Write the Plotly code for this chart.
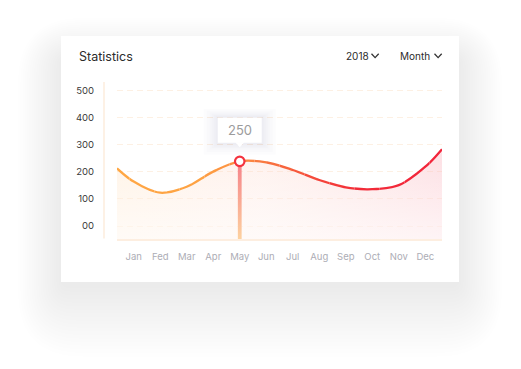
import plotly.graph_objects as go
from plotly.colors import sample_colorscale

# ---------------- data ----------------
months = ["Jan", "Fed", "Mar", "Apr", "May", "Jun", "Jul", "Aug", "Sep", "Oct", "Nov", "Dec"]
month_pos = [1, 2, 3, 4, 5, 6, 7, 8, 9, 10, 11, 12]
curve_x = [0.37, 1, 2, 3, 4, 5, 6, 7, 8, 9, 10, 11, 12, 12.63]
curve_y = [213, 164, 123, 145, 201, 239, 235, 207, 170, 143, 136, 151, 219, 284]
y_tick_vals = [0, 100, 200, 300, 400, 500]
y_tick_text = ["00", "100", "200", "300", "400", "500"]
highlight_month = "May"
highlight_label = "250"
title_text = "Statistics"
filter_labels = ["2018", "Month"]

# ---------------- layout constants ----------------
W, H = 521, 369
ML, MR, MT, MB = 117, 79, 82, 130
PL, PR, PT, PB = ML, W - MR, MT, H - MB
XR = [curve_x[0], curve_x[-1]]
YR = [-48, 532]
FONT = "Inter, Open Sans, sans-serif"


def px(x):
    return (x - PL) / (PR - PL)


def py(y):
    return (PB - y) / (PB - PT)


def rrect(x0, y0, x1, y1, r):
    # rounded rectangle path in paper coordinates, given pixel box
    return (f"M {px(x0 + r)} {py(y0)} L {px(x1 - r)} {py(y0)} Q {px(x1)} {py(y0)} {px(x1)} {py(y0 + r)} "
            f"L {px(x1)} {py(y1 - r)} Q {px(x1)} {py(y1)} {px(x1 - r)} {py(y1)} "
            f"L {px(x0 + r)} {py(y1)} Q {px(x0)} {py(y1)} {px(x0)} {py(y1 - r)} "
            f"L {px(x0)} {py(y0 + r)} Q {px(x0)} {py(y0)} {px(x0 + r)} {py(y0)} Z")


hx = month_pos[months.index(highlight_month)]
hy = curve_y[curve_x.index(hx)]

fig = go.Figure()
shapes = []
annotations = []

# ---------------- card shadow + card ----------------
CX0, CX1, CY0, CY1 = 61, 459, 36, 282
for i in range(20):
    e = 3 * i
    shapes.append(dict(type="path", xref="paper", yref="paper", layer="below",
                       path=rrect(CX0 - 0.75 * e, 58 - 0.7 * e, CX1 + 0.75 * e, CY1 + 6 + 1.2 * e, 8 + e),
                       line=dict(width=0), fillcolor="rgb(75,90,160)", opacity=0.009))
shapes.append(dict(type="rect", xref="paper", yref="paper", layer="below",
                   x0=px(CX0), x1=px(CX1), y0=py(CY1), y1=py(CY0),
                   line=dict(width=0), fillcolor="#ffffff"))
# vertical axis accent line
shapes.append(dict(type="line", xref="paper", yref="paper", layer="below",
                   x0=px(104), x1=px(104), y0=py(238.5), y1=py(82),
                   line=dict(color="#fdeedf", width=1.6)))

# ---------------- area fills ----------------
fig.add_trace(go.Scatter(x=XR, y=[YR[0], YR[0]], mode="lines", line=dict(width=0),
                         showlegend=False, hoverinfo="skip"))
fig.add_trace(go.Scatter(x=curve_x, y=curve_y, mode="lines",
                         line=dict(width=0, shape="spline"), fill="tonexty",
                         fillgradient=dict(type="horizontal",
                                           colorscale=[[0, "rgba(255,186,110,0.17)"],
                                                       [0.45, "rgba(252,165,140,0.15)"],
                                                       [1, "rgba(245,110,130,0.22)"]]),
                         showlegend=False, hoverinfo="skip"))
fig.add_trace(go.Scatter(x=XR, y=[YR[0], YR[0]], mode="lines", line=dict(width=0),
                         showlegend=False, hoverinfo="skip"))
fig.add_trace(go.Scatter(x=curve_x, y=curve_y, mode="lines",
                         line=dict(width=0, shape="spline"), fill="tonexty",
                         fillgradient=dict(type="vertical",
                                           colorscale=[[0, "rgba(255,255,255,0.65)"],
                                                       [1, "rgba(255,255,255,0)"]]),
                         showlegend=False, hoverinfo="skip"))

# ---------------- gradient line via clipped segments ----------------
N = 26
line_scale = [[0, "#ffa744"], [0.25, "#fea243"], [0.38, "#fc8c42"], [0.5, "#f76a3e"],
              [0.62, "#f4453a"], [0.75, "#f22b38"], [1, "#f2243b"]]
seg_cols = sample_colorscale(line_scale, [(k + 0.5) / N for k in range(N)])
span = XR[1] - XR[0]
layout_axes = {}
for k in range(N):
    ax_id = k + 2
    layout_axes[f"xaxis{ax_id}"] = dict(domain=[k / N, (k + 1) / N],
                                        range=[XR[0] + span * k / N, XR[0] + span * (k + 1) / N],
                                        visible=False, anchor="y2", fixedrange=True)
    fig.add_trace(go.Scatter(x=curve_x, y=curve_y, mode="lines", xaxis=f"x{ax_id}", yaxis="y2",
                             line=dict(width=2.3, shape="spline", color=seg_cols[k]),
                             showlegend=False, hoverinfo="skip"))

# highlight bar + marker on top-most overlay
top_id = N + 2
layout_axes[f"xaxis{top_id}"] = dict(domain=[0, 1], range=XR, visible=False, anchor="y2", fixedrange=True)
hw = 1.9 * span / (PR - PL)
fig.add_trace(go.Scatter(x=[hx - hw, hx + hw, hx + hw, hx - hw, hx - hw],
                         y=[YR[0], YR[0], hy, hy, YR[0]], mode="lines", line=dict(width=0),
                         fill="toself", xaxis=f"x{top_id}", yaxis="y2",
                         fillgradient=dict(type="vertical",
                                           colorscale=[[0, "#fdd2a0"], [0.5, "#f9a894"], [1, "#f5828a"]]),
                         showlegend=False, hoverinfo="skip"))
fig.add_trace(go.Scatter(x=[hx], y=[hy], mode="markers", xaxis=f"x{top_id}", yaxis="y2",
                         marker=dict(size=9.5, color="#ffffff", line=dict(color="#f4333f", width=2.2)),
                         showlegend=False, hoverinfo="skip"))

# ---------------- tooltip ----------------
for e in [14, 11, 8, 6, 4, 2]:
    shapes.append(dict(type="rect", xref="x", yref="y", layer="above",
                       xsizemode="pixel", ysizemode="pixel", xanchor=hx, yanchor=hy,
                       x0=-22 - e, x1=22 + e, y0=18 - e * 0.8, y1=44 + e * 0.6,
                       line=dict(width=0), fillcolor="rgb(120,135,190)", opacity=0.022))
shapes.append(dict(type="rect", xref="x", yref="y", layer="above",
                   xsizemode="pixel", ysizemode="pixel", xanchor=hx, yanchor=hy,
                   x0=-22, x1=22, y0=18.5, y1=43.5,
                   line=dict(width=0), fillcolor="#ffffff"))
shapes.append(dict(type="path", xref="x", yref="y", layer="above",
                   xsizemode="pixel", ysizemode="pixel", xanchor=hx, yanchor=hy,
                   path="M -4.5 19 L 0 14 L 4.5 19 Z",
                   line=dict(width=0), fillcolor="#ffffff"))
annotations.append(dict(x=hx, y=hy, xref="x", yref="y", yshift=31, showarrow=False,
                        text=highlight_label, font=dict(family=FONT, size=13, color="#9c9c9c")))

# ---------------- header ----------------
annotations.append(dict(x=px(77), y=py(56.3), xref="paper", yref="paper", xanchor="left",
                        yanchor="middle", showarrow=False, text=title_text,
                        font=dict(family=FONT, size=12.5, color="#2b2b2b")))
header_left = [343.5, 397.5]
chev_left = [371.5, 434.5]
for lab, xl, cl in zip(filter_labels, header_left, chev_left):
    annotations.append(dict(x=px(xl), y=py(56.3), xref="paper", yref="paper", xanchor="left",
                            yanchor="middle", showarrow=False, text=lab,
                            font=dict(family=FONT, size=10, color="#2b2b2b")))
    shapes.append(dict(type="path", xref="paper", yref="paper", layer="above",
                       path=f"M {px(cl)} {py(53.8)} L {px(cl + 3.6)} {py(57.6)} L {px(cl + 7.2)} {py(53.8)}",
                       line=dict(color="#333333", width=1.3)))

fig.update_layout(
    width=W, height=H,
    margin=dict(l=ML, r=MR, t=MT, b=MB, pad=0),
    paper_bgcolor="#ffffff", plot_bgcolor="rgba(0,0,0,0)",
    hovermode=False, showlegend=False,
    font=dict(family=FONT),
    xaxis=dict(range=XR, tickvals=month_pos, ticktext=months, showgrid=False, zeroline=False,
               showline=True, linecolor="#fdeee0", linewidth=1.5, ticks="",
               tickfont=dict(family=FONT, size=9.5, color="#adadb5"), ticklabelstandoff=8,
               fixedrange=True),
    yaxis=dict(range=YR, tickvals=y_tick_vals, ticktext=y_tick_text, showgrid=True,
               gridcolor="#fdf0e3", griddash="6px,4px", gridwidth=1, zeroline=False,
               showline=False, ticks="", tickfont=dict(family=FONT, size=9.5, color="#3a3a3a"),
               ticklabelstandoff=22, fixedrange=True),
    yaxis2=dict(domain=[0, 1], range=YR, visible=False, anchor="x2", fixedrange=True),
    shapes=shapes, annotations=annotations,
    **layout_axes,
)

fig.write_html("out.html", config={"displayModeBar": False},
               post_script="document.body.style.margin='0';document.body.style.padding='0';")
